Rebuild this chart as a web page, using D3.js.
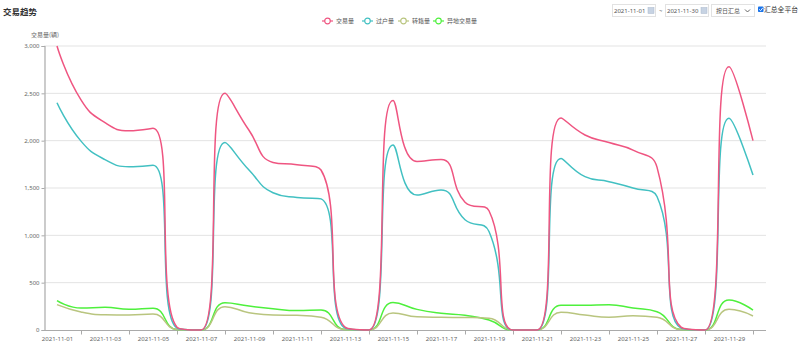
<!DOCTYPE html>
<html><head><meta charset="utf-8">
<script src="https://cdn.jsdelivr.net/npm/d3@7/dist/d3.min.js"></script>
<style>
html,body{margin:0;padding:0;background:#fff;}
svg{display:block;font-family:"Noto Sans CJK SC","Noto Sans",sans-serif;}
</style></head>
<body><svg id="c" width="800" height="352"></svg>
<script>
const dates = ["2021-11-01","2021-11-02","2021-11-03","2021-11-04","2021-11-05","2021-11-06","2021-11-07","2021-11-08","2021-11-09","2021-11-10","2021-11-11","2021-11-12","2021-11-13","2021-11-14","2021-11-15","2021-11-16","2021-11-17","2021-11-18","2021-11-19","2021-11-20","2021-11-21","2021-11-22","2021-11-23","2021-11-24","2021-11-25","2021-11-26","2021-11-27","2021-11-28","2021-11-29","2021-11-30"];
const seriesNames = ["交易量","过户量","转籍量","异地交易量"];
const tradeVol   = [3000,2430,2190,2105,2130,30,0,2500,2110,1770,1745,1690,30,0,2425,1780,1800,1350,1260,0,0,2240,2060,1980,1900,1720,30,0,2780,2000];
const transferVol= [2400,1995,1800,1725,1740,20,0,1980,1690,1450,1400,1385,20,0,1955,1425,1480,1165,1040,0,0,1812,1620,1567,1500,1410,20,0,2236,1637];
const regVol     = [268,190,160,158,168,6,0,246,183,158,155,134,5,0,180,140,134,132,125,0,0,187,158,136,150,134,5,0,218,148];
const remoteVol  = [310,232,240,218,229,5,0,289,253,225,205,211,5,0,290,218,176,155,106,0,0,261,262,268,232,193,5,0,317,211];
const yTicks = [0,500,1000,1500,2000,2500,3000];
const colors = ["#ef5581","#42c0c2","#b9c57f","#4ef03c"];

const svg = d3.select("#c");
const x = d3.scalePoint().domain(dates).range([57,753]);
const y = d3.scaleLinear().domain([0,3000]).range([330,46]);

// smooth path in the style of an ECharts smooth line (control points clamped between neighbours)
function smoothPath(pts, smooth){
  const p = d3.path();
  let cpx0, cpy0, prevX, prevY;
  pts.forEach(([px,py], i)=>{
    if(i===0){ p.moveTo(px,py); cpx0=px; cpy0=py; }
    else {
      let cpx1, cpy1, nx0, ny0;
      if(i===pts.length-1){ cpx1=px; cpy1=py; }
      else {
        const [nX,nY] = pts[i+1];
        let vx = nX-prevX, vy = nY-prevY;
        const l0 = Math.hypot(px-prevX, py-prevY), l1 = Math.hypot(nX-px, nY-py);
        const r = l1/(l0+l1);
        nx0 = px + vx*smooth*r; ny0 = py + vy*smooth*r;
        nx0 = Math.max(Math.min(nx0, Math.max(nX,px)), Math.min(nX,px));
        ny0 = Math.max(Math.min(ny0, Math.max(nY,py)), Math.min(nY,py));
        vx = nx0-px; vy = ny0-py;
        cpx1 = px - vx*l0/l1; cpy1 = py - vy*l0/l1;
        cpx1 = Math.max(Math.min(cpx1, Math.max(prevX,px)), Math.min(prevX,px));
        cpy1 = Math.max(Math.min(cpy1, Math.max(prevY,py)), Math.min(prevY,py));
        vx = px-cpx1; vy = py-cpy1;
        nx0 = px + vx*l1/l0; ny0 = py + vy*l1/l0;
      }
      p.bezierCurveTo(cpx0,cpy0,cpx1,cpy1,px,py);
      cpx0=nx0; cpy0=ny0;
    }
    prevX=px; prevY=py;
  });
  return p.toString();
}

// title
svg.append("text").attr("x",3).attr("y",15).attr("font-size",8.5).attr("font-weight","bold").attr("fill","#333").text("交易趋势");

// grid
svg.append("g").selectAll("line").data(yTicks.filter(d=>d>0)).join("line")
  .attr("x1",44).attr("x2",766).attr("y1",d=>y(d)).attr("y2",d=>y(d))
  .attr("stroke","#e3e3e3").attr("stroke-width",1);

// y axis
const ya = svg.append("g").attr("transform","translate(44.5,0)")
  .call(d3.axisLeft(y).tickValues(yTicks).tickFormat(d3.format(",")).tickSize(3).tickPadding(2));
ya.select(".domain").attr("stroke","#aaa").attr("stroke-width",1.2);
ya.selectAll(".tick line").attr("stroke","#aaa");
ya.selectAll("text").attr("font-size",6).attr("fill","#666").attr("font-family","'Noto Sans','DejaVu Sans',sans-serif");
svg.append("text").attr("x",31).attr("y",37).attr("font-size",6).attr("fill","#666").text("交易量(辆)");

// x axis
const xa = svg.append("g").attr("transform","translate(0,330.5)");
xa.append("line").attr("x1",44).attr("x2",766).attr("stroke","#aaa").attr("stroke-width",1);
const labelAxis = xa.append("g").call(d3.axisBottom(x).tickValues(dates.filter((d,i)=>i%2===0)).tickSize(0).tickPadding(6));
labelAxis.select(".domain").remove();
labelAxis.selectAll("text").attr("font-size",6).attr("fill","#666").attr("font-family","'Noto Sans','DejaVu Sans',sans-serif");
const tickAxis = xa.append("g").call(d3.axisBottom(x).tickValues(dates.filter((d,i)=>i%2===1)).tickSize(4).tickFormat(""));
tickAxis.select(".domain").remove();
tickAxis.selectAll(".tick line").attr("stroke","#aaa");

// lines
const allSeries = [tradeVol, transferVol, regVol, remoteVol];
[3,2,1,0].forEach(k=>{
  const pts = allSeries[k].map((v,i)=>[x(dates[i]), y(v)]);
  svg.append("path").attr("d",smoothPath(pts,0.5))
    .attr("fill","none").attr("stroke",colors[k]).attr("stroke-width",1.5);
});

// legend
const legX = [322,362,398,433];
const lg = svg.append("g");
seriesNames.forEach((n,k)=>{
  const g = lg.append("g").attr("transform",`translate(${legX[k]},21)`);
  g.append("line").attr("x1",0).attr("x2",11).attr("stroke",colors[k]).attr("stroke-width",1.2);
  g.append("circle").attr("cx",5.5).attr("cy",0).attr("r",2.8).attr("fill","#fff").attr("stroke",colors[k]).attr("stroke-width",1.2);
  g.append("text").attr("x",14).attr("y",2.2).attr("font-size",6).attr("fill","#555").text(n);
});

// top-right controls
const ctl = svg.append("g").attr("font-size",6).attr("fill","#555");
function dateBox(x0,txt){
  ctl.append("rect").attr("x",x0+0.5).attr("y",4.5).attr("width",43).attr("height",12).attr("fill","#fff").attr("stroke","#e2e2e2");
  ctl.append("text").attr("x",x0+2).attr("y",12.8).attr("font-family","'Noto Sans','DejaVu Sans',sans-serif").text(txt);
  ctl.append("rect").attr("x",x0+36).attr("y",7.5).attr("width",6).attr("height",6).attr("fill","#c7d3e3").attr("stroke","#a9b7cc").attr("stroke-width",0.5);
}
dateBox(612,"2021-11-01");
ctl.append("text").attr("x",659).attr("y",12.5).text("~");
dateBox(665,"2021-11-30");
ctl.append("rect").attr("x",711.5).attr("y",4.5).attr("width",43).attr("height",12).attr("fill","#fff").attr("stroke","#e2e2e2");
ctl.append("text").attr("x",716).attr("y",13).text("按日汇总");
ctl.append("path").attr("d","M745,9.5 L747.5,12 L750,9.5").attr("fill","none").attr("stroke","#555").attr("stroke-width",0.9);
ctl.append("rect").attr("x",758).attr("y",6.5).attr("width",5.5).attr("height",5.5).attr("rx",0.8).attr("fill","#1a73e8");
ctl.append("path").attr("d","M759.2,9.3 L760.6,10.7 L762.8,7.8").attr("fill","none").attr("stroke","#fff").attr("stroke-width",0.9);
ctl.append("text").attr("x",764).attr("y",12).attr("font-size",6.8).attr("fill","#333").text("汇总全平台");
</script></body></html>
